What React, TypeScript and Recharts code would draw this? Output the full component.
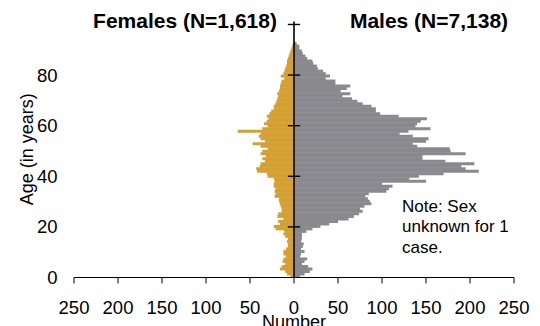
import React from 'react'
import { BarChart, Bar, XAxis, YAxis, ReferenceLine, Label } from 'recharts'

// counts by single year of age, 0..99
const females = [
  4, 8, 10, 16, 14, 10, 13, 12, 9, 12,
  12, 9, 7, 7, 8, 7, 10, 12, 11, 21,
  23, 16, 18, 12, 19, 18, 14, 14, 15, 16,
  17, 17, 22, 21, 22, 21, 23, 23, 22, 23,
  30, 31, 42, 43, 39, 38, 33, 36, 32, 38,
  36, 30, 38, 47, 33, 38, 40, 38, 64, 36,
  30, 34, 31, 29, 31, 28, 26, 23, 23, 21,
  20, 19, 18, 19, 17, 16, 16, 15, 14, 11,
  15, 12, 11, 10, 9, 8, 8, 7, 6, 5,
  4, 3, 2, 1, 0, 0, 0, 0, 0, 0,
]

const males = [
  7, 12, 18, 21, 16, 9, 12, 15, 7, 8,
  12, 8, 10, 11, 8, 9, 9, 9, 14, 21,
  30, 40, 50, 62, 68, 74, 78, 75, 80, 88,
  86, 84, 81, 85, 105, 108, 112, 100, 150, 131,
  142, 170, 210, 195, 190, 205, 172, 146, 146, 195,
  178, 177, 140, 135, 150, 153, 135, 120, 130, 155,
  138, 140, 144, 151, 119, 98, 93, 93, 88, 78,
  72, 66, 55, 64, 53, 60, 64, 47, 47, 36,
  41, 36, 33, 27, 26, 22, 21, 15, 13, 10,
  9, 6, 6, 3, 0, 0, 0, 0, 0, 0,
]

const xTicks = [-250, -200, -150, -100, -50, 0, 50, 100, 150, 200, 250]
const yTicks = [0, 20, 40, 60, 80]
const axisTicks = [20, 40, 60, 80, 100]

const noteLines = ['Note: Sex', 'unknown for 1', 'case.']

const FEMALE = '#D5A032'
const MALE = '#8A898E'
const FONT = '"Liberation Sans", Arial, Helvetica, sans-serif'

const table = males.map((m, i) => ({ age: i, female: -females[i], male: m }))

export default function App() {
  return (
    <div style={{ position: 'absolute', left: 0, top: 0, width: 540, height: 326, fontFamily: FONT }}>
      <BarChart
        width={540}
        height={326}
        data={table}
        layout="vertical"
        stackOffset="sign"
        barCategoryGap={0}
        margin={{ top: 27, right: 26, left: 0, bottom: 0 }}
      >
        <XAxis
          type="number"
          domain={[-250, 250]}
          ticks={xTicks}
          tickFormatter={(v: number) => String(Math.abs(v))}
          height={48.5}
          axisLine={{ stroke: '#000' }}
          tickLine={{ stroke: '#000' }}
          tickSize={6}
          tickMargin={17}
          tick={{ fill: '#000', fontSize: 18.5, fontFamily: FONT }}
          allowDataOverflow
        >
          <Label value="Number" position="insideBottom" offset={-2} fill="#000" fontSize={18} fontFamily={FONT} />
        </XAxis>
        <YAxis
          yAxisId="num"
          type="number"
          domain={[0, 100]}
          reversed
          ticks={yTicks}
          width={74}
          axisLine={false}
          tickLine={false}
          tickSize={6}
          tickMargin={10.5}
          tick={{ fill: '#000', fontSize: 18.5, fontFamily: FONT }}
          allowDataOverflow
        >
          <Label
            content={(props: any) => {
              const vb = props.viewBox || { x: 0, y: 27, height: 250 }
              const cx = vb.x + 33
              const cy = vb.y + vb.height / 2 - 3
              return (
                <text x={cx} y={cy} transform={`rotate(-90 ${cx} ${cy})`} textAnchor="middle" fill="#000" fontSize={18} fontFamily={FONT}>
                  Age (in years)
                </text>
              )
            }}
          />
        </YAxis>
        <YAxis yAxisId="cat" type="category" dataKey="age" reversed hide width={0} />
        <Bar dataKey="female" yAxisId="cat" stackId="s" fill={FEMALE} isAnimationActive={false} />
        <Bar dataKey="male" yAxisId="cat" stackId="s" fill={MALE} isAnimationActive={false} />
        <ReferenceLine
          yAxisId="num"
          segment={[{ x: 0, y: 0 }, { x: 0, y: 101.2 }]}
          stroke="#000"
          strokeWidth={1.6}
          ifOverflow="visible"
        />
        {axisTicks.map((a) => (
          <ReferenceLine
            key={a}
            yAxisId="num"
            segment={[{ x: -7, y: a }, { x: 7, y: a }]}
            stroke="#000"
            strokeWidth={1.4}
            ifOverflow="visible"
          />
        ))}
      </BarChart>
      <svg width={540} height={326} style={{ position: 'absolute', left: 0, top: 0, pointerEvents: 'none' }}>
        <text x={185} y={28} textAnchor="middle" fontSize={21} fontWeight="bold" fontFamily={FONT} fill="#000">
          Females (N=1,618)
        </text>
        <text x={429} y={28} textAnchor="middle" fontSize={21} fontWeight="bold" fontFamily={FONT} fill="#000">
          Males (N=7,138)
        </text>
        {noteLines.map((t, i) => (
          <text key={t} x={402} y={211.5 + i * 20.5} fontSize={17} fontFamily={FONT} fill="#000">
            {t}
          </text>
        ))}
      </svg>
    </div>
  )
}
